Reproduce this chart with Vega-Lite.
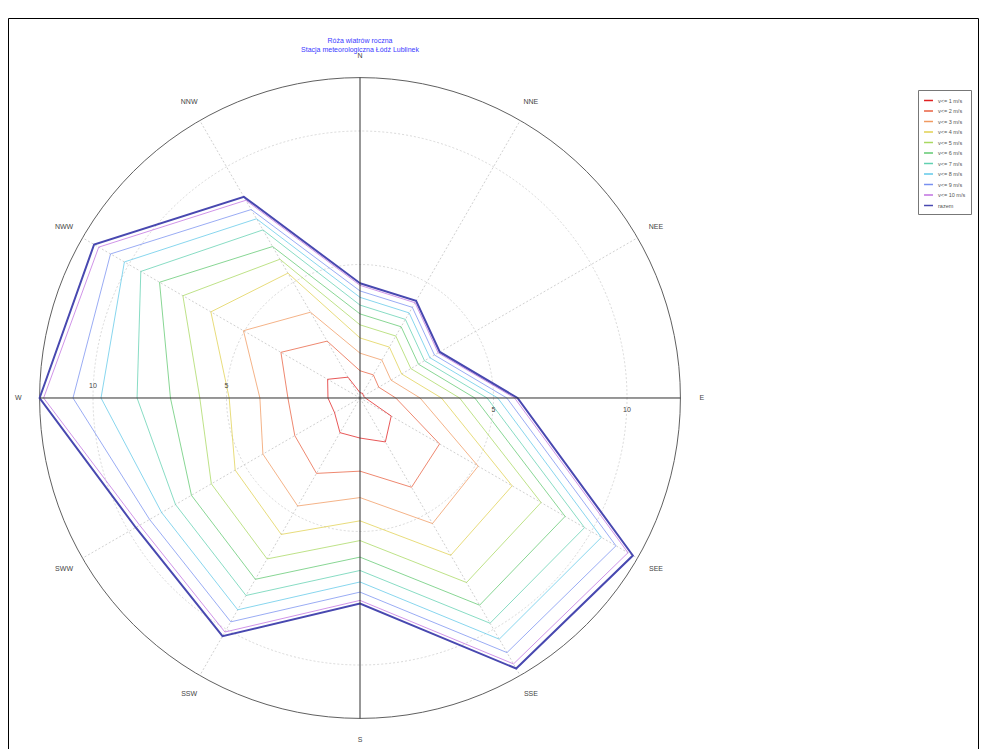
{
  "$schema": "https://vega.github.io/schema/vega-lite/v6.json",
  "autosize": "none",
  "padding": {"left": 8, "top": 18, "right": 4, "bottom": 0},
  "width": 970,
  "height": 731,
  "background": "white",
  "config": {
    "view": {"stroke": "#000000", "strokeWidth": 1},
    "font": "Liberation Sans"
  },
  "title": {
    "text": ["Róża wiatrów roczna", "Stacja meteorologiczna Łódź Lublinek"],
    "color": "#3a3aff",
    "fontSize": 7,
    "fontWeight": "normal",
    "lineHeight": 9,
    "anchor": "middle",
    "baseline": "top",
    "dx": -133,
    "offset": -35
  },
  "datasets": {
    "rose": [
      {"dir": "N", "deg": 0, "s01": 0.2, "s02": 1.02, "s03": 1.68, "s04": 2.25, "s05": 2.74, "s06": 3.15, "s07": 3.48, "s08": 3.77, "s09": 4.01, "s10": 4.22, "razem": 4.3},
      {"dir": "NNE", "deg": 30, "s01": 0.2, "s02": 1.0, "s03": 1.64, "s04": 2.2, "s05": 2.68, "s06": 3.08, "s07": 3.4, "s08": 3.68, "s09": 3.92, "s10": 4.12, "razem": 4.2},
      {"dir": "NEE", "deg": 60, "s01": 0.15, "s02": 0.81, "s03": 1.34, "s04": 1.8, "s05": 2.2, "s06": 2.53, "s07": 2.79, "s08": 3.02, "s09": 3.22, "s10": 3.38, "razem": 3.45},
      {"dir": "E", "deg": 90, "s01": 0.2, "s02": 1.34, "s03": 2.25, "s04": 3.05, "s05": 3.73, "s06": 4.3, "s07": 4.76, "s08": 5.16, "s09": 5.5, "s10": 5.79, "razem": 5.9},
      {"dir": "SEE", "deg": 120, "s01": 1.35, "s02": 3.44, "s03": 5.11, "s04": 6.58, "s05": 7.83, "s06": 8.87, "s07": 9.71, "s08": 10.44, "s09": 11.07, "s10": 11.59, "razem": 11.8},
      {"dir": "SSE", "deg": 150, "s01": 1.9, "s02": 3.86, "s03": 5.43, "s04": 6.8, "s05": 7.98, "s06": 8.96, "s07": 9.74, "s08": 10.43, "s09": 11.01, "s10": 11.5, "razem": 11.7},
      {"dir": "S", "deg": 180, "s01": 1.5, "s02": 2.74, "s03": 3.73, "s04": 4.6, "s05": 5.34, "s06": 5.96, "s07": 6.46, "s08": 6.89, "s09": 7.27, "s10": 7.58, "razem": 7.7},
      {"dir": "SSW", "deg": 210, "s01": 1.5, "s02": 3.26, "s03": 4.67, "s04": 5.9, "s05": 6.96, "s06": 7.84, "s07": 8.54, "s08": 9.16, "s09": 9.68, "s10": 10.12, "razem": 10.3},
      {"dir": "SWW", "deg": 240, "s01": 1.1, "s02": 2.82, "s03": 4.2, "s04": 5.4, "s05": 6.43, "s06": 7.29, "s07": 7.98, "s08": 8.58, "s09": 9.1, "s10": 9.53, "razem": 9.7},
      {"dir": "W", "deg": 270, "s01": 1.2, "s02": 2.7, "s03": 3.75, "s04": 4.9, "s05": 6.0, "s06": 7.1, "s07": 8.35, "s08": 9.7, "s09": 10.75, "s10": 11.85, "razem": 12.0},
      {"dir": "NWW", "deg": 300, "s01": 1.4, "s02": 3.42, "s03": 5.04, "s04": 6.45, "s05": 7.66, "s06": 8.67, "s07": 9.48, "s08": 10.19, "s09": 10.79, "s10": 11.3, "razem": 11.5},
      {"dir": "NNW", "deg": 330, "s01": 0.9, "s02": 2.46, "s03": 3.71, "s04": 5.4, "s05": 6.0, "s06": 6.55, "s07": 7.27, "s08": 7.75, "s09": 8.15, "s10": 8.55, "razem": 8.7}
    ],
    "dirs": [
      {"dir": "N", "deg": 0}, {"dir": "NNE", "deg": 30}, {"dir": "NEE", "deg": 60},
      {"dir": "E", "deg": 90}, {"dir": "SEE", "deg": 120}, {"dir": "SSE", "deg": 150},
      {"dir": "S", "deg": 180}, {"dir": "SSW", "deg": 210}, {"dir": "SWW", "deg": 240},
      {"dir": "W", "deg": 270}, {"dir": "NWW", "deg": 300}, {"dir": "NNW", "deg": 330}
    ],
    "rings": [{"r": 5}, {"r": 10}],
    "outer": [{"r": 12}],
    "ticks": [
      {"t": "5", "v": 5, "side": "right"}, {"t": "10", "v": 10, "side": "right"},
      {"t": "5", "v": -5, "side": "left"}, {"t": "10", "v": -10, "side": "left"}
    ]
  },
  "layer": [
    {
      "data": {"name": "rings"},
      "mark": {"type": "point", "shape": "circle", "filled": false, "stroke": "#cfcfcf", "strokeWidth": 0.8, "strokeDash": [2, 2], "opacity": 1},
      "encoding": {
        "x": {"datum": 0, "type": "quantitative", "scale": {"domain": [-13.184, 23.146], "nice": false, "zero": false}, "axis": null},
        "y": {"datum": 0, "type": "quantitative", "scale": {"domain": [-13.146, 14.232], "nice": false, "zero": false}, "axis": null},
        "size": {"field": "r", "type": "quantitative", "scale": {"type": "pow", "exponent": 2, "domain": [0, 12], "range": [0, 410625], "zero": true}, "legend": null}
      }
    },
    {
      "data": {"name": "outer"},
      "mark": {"type": "point", "shape": "circle", "filled": false, "stroke": "#606060", "strokeWidth": 1, "opacity": 1},
      "encoding": {
        "x": {"datum": 0, "type": "quantitative", "scale": {"domain": [-13.184, 23.146], "nice": false, "zero": false}, "axis": null},
        "y": {"datum": 0, "type": "quantitative", "scale": {"domain": [-13.146, 14.232], "nice": false, "zero": false}, "axis": null},
        "size": {"field": "r", "type": "quantitative", "scale": {"type": "pow", "exponent": 2, "domain": [0, 12], "range": [0, 410625], "zero": true}, "legend": null}
      }
    },
    {
      "data": {"name": "dirs"},
      "transform": [
        {"filter": "datum.deg % 90 != 0"},
        {"calculate": "12 * sin(datum.deg * PI / 180)", "as": "ex"},
        {"calculate": "12 * cos(datum.deg * PI / 180)", "as": "ey"},
        {"calculate": "0", "as": "ox"}
      ],
      "mark": {"type": "rule", "stroke": "#c4c4c4", "strokeWidth": 0.8, "strokeDash": [2, 2]},
      "encoding": {
        "x": {"field": "ox", "type": "quantitative", "scale": {"domain": [-13.184, 23.146], "nice": false, "zero": false}, "axis": null},
        "y": {"field": "ox", "type": "quantitative", "scale": {"domain": [-13.146, 14.232], "nice": false, "zero": false}, "axis": null},
        "x2": {"field": "ex"},
        "y2": {"field": "ey"}
      }
    },
    {
      "data": {"name": "rose"},
      "transform": [
        {"fold": ["s01", "s02", "s03", "s04", "s05", "s06", "s07", "s08", "s09", "s10"], "as": ["series", "v"]},
        {"calculate": "datum.v * sin(datum.deg * PI / 180)", "as": "x"},
        {"calculate": "datum.v * cos(datum.deg * PI / 180)", "as": "y"}
      ],
      "mark": {"type": "line", "interpolate": "linear-closed", "strokeWidth": 1, "opacity": 0.75},
      "encoding": {
        "x": {"field": "x", "type": "quantitative", "scale": {"domain": [-13.184, 23.146], "nice": false, "zero": false}, "axis": null},
        "y": {"field": "y", "type": "quantitative", "scale": {"domain": [-13.146, 14.232], "nice": false, "zero": false}, "axis": null},
        "order": {"field": "deg", "type": "quantitative"},
        "color": {
          "field": "series", "type": "nominal",
          "scale": {
            "domain": ["s01", "s02", "s03", "s04", "s05", "s06", "s07", "s08", "s09", "s10", "razem"],
            "range": ["#e02020", "#e86040", "#f09a60", "#e0d050", "#a8d860", "#60c870", "#60d0b0", "#60c8e8", "#7890f0", "#c070e0", "#4848b0"]
          },
          "legend": {
            "title": null,
            "orient": "none",
            "legendX": 910,
            "legendY": 72,
            "direction": "vertical",
            "symbolType": "stroke",
            "symbolSize": 80,
            "symbolStrokeWidth": 1.5,
            "symbolOpacity": 1,
            "labelFontSize": 5.5,
            "labelColor": "#555555",
            "rowPadding": 1.5,
            "padding": 5,
            "strokeColor": "#777777",
            "fillColor": "#ffffff",
            "labelExpr": "{'s01':'v<= 1 m/s','s02':'v<= 2 m/s','s03':'v<= 3 m/s','s04':'v<= 4 m/s','s05':'v<= 5 m/s','s06':'v<= 6 m/s','s07':'v<= 7 m/s','s08':'v<= 8 m/s','s09':'v<= 9 m/s','s10':'v<= 10 m/s','razem':'razem'}[datum.label]"
          }
        }
      }
    },
    {
      "data": {"name": "rose"},
      "transform": [
        {"fold": ["razem"], "as": ["series", "v"]},
        {"calculate": "datum.v * sin(datum.deg * PI / 180)", "as": "x"},
        {"calculate": "datum.v * cos(datum.deg * PI / 180)", "as": "y"}
      ],
      "mark": {"type": "line", "interpolate": "linear-closed", "strokeWidth": 2},
      "encoding": {
        "x": {"field": "x", "type": "quantitative", "scale": {"domain": [-13.184, 23.146], "nice": false, "zero": false}, "axis": null},
        "y": {"field": "y", "type": "quantitative", "scale": {"domain": [-13.146, 14.232], "nice": false, "zero": false}, "axis": null},
        "order": {"field": "deg", "type": "quantitative"},
        "color": {"field": "series", "type": "nominal"}
      }
    },
    {
      "data": {"name": "dirs"},
      "transform": [
        {"filter": "datum.deg % 90 == 0"},
        {"calculate": "12 * sin(datum.deg * PI / 180)", "as": "ex"},
        {"calculate": "12 * cos(datum.deg * PI / 180)", "as": "ey"},
        {"calculate": "0", "as": "ox"}
      ],
      "mark": {"type": "rule", "stroke": "#303030", "strokeWidth": 1},
      "encoding": {
        "x": {"field": "ox", "type": "quantitative", "scale": {"domain": [-13.184, 23.146], "nice": false, "zero": false}, "axis": null},
        "y": {"field": "ox", "type": "quantitative", "scale": {"domain": [-13.146, 14.232], "nice": false, "zero": false}, "axis": null},
        "x2": {"field": "ex"},
        "y2": {"field": "ey"}
      }
    },
    {
      "data": {"name": "dirs"},
      "transform": [
        {"calculate": "12.8 * sin(datum.deg * PI / 180)", "as": "lx"},
        {"calculate": "12.8 * cos(datum.deg * PI / 180)", "as": "ly"}
      ],
      "mark": {"type": "text", "fontSize": 7, "color": "#444444", "align": "center", "baseline": "middle"},
      "encoding": {
        "x": {"field": "lx", "type": "quantitative", "scale": {"domain": [-13.184, 23.146], "nice": false, "zero": false}, "axis": null},
        "y": {"field": "ly", "type": "quantitative", "scale": {"domain": [-13.146, 14.232], "nice": false, "zero": false}, "axis": null},
        "text": {"field": "dir"}
      }
    },
    {
      "data": {"name": "ticks"},
      "transform": [{"filter": "datum.side == 'right'"}, {"calculate": "0", "as": "zy"}],
      "mark": {"type": "text", "fontSize": 7, "color": "#444444", "align": "center", "baseline": "middle", "dy": 12},
      "encoding": {
        "x": {"field": "v", "type": "quantitative", "scale": {"domain": [-13.184, 23.146], "nice": false, "zero": false}, "axis": null},
        "y": {"field": "zy", "type": "quantitative", "scale": {"domain": [-13.146, 14.232], "nice": false, "zero": false}, "axis": null},
        "text": {"field": "t"}
      }
    },
    {
      "data": {"name": "ticks"},
      "transform": [{"filter": "datum.side == 'left'"}, {"calculate": "0", "as": "zy"}],
      "mark": {"type": "text", "fontSize": 7, "color": "#444444", "align": "center", "baseline": "middle", "dy": -12},
      "encoding": {
        "x": {"field": "v", "type": "quantitative", "scale": {"domain": [-13.184, 23.146], "nice": false, "zero": false}, "axis": null},
        "y": {"field": "zy", "type": "quantitative", "scale": {"domain": [-13.146, 14.232], "nice": false, "zero": false}, "axis": null},
        "text": {"field": "t"}
      }
    }
  ]
}
